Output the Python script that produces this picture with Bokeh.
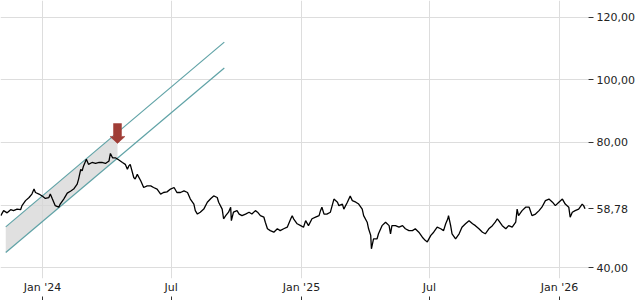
import pandas as pd
from bokeh.plotting import figure
from bokeh.models import (FixedTicker, CustomJSTickFormatter, LinearAxis, Range1d, Grid)
from bokeh.embed import file_html
from bokeh.resources import INLINE

# ---------------- data ----------------
base_date = "2024-01-01"
day_offsets = [
    -59, -55, -50, -45, -41, -36, -31, -29, -24, -19, -15, -12, -10, -5, 0, 4, 9, 11, 14, 18,
    23, 25, 30, 35, 40, 44, 49, 51, 54, 56, 58, 62, 65, 70, 75, 80, 84, 89, 94, 96,
    99, 103, 108, 113, 117, 120, 122, 124, 129, 131, 134, 139, 143, 148, 153, 157, 162, 167, 171, 176,
    181, 186, 190, 195, 200, 205, 209, 214,
    216, 219, 223, 228, 233, 238, 242, 247, 249, 254, 256, 259, 263, 266, 267, 270, 275, 278, 282, 287,
    292, 296, 301, 304, 308, 313, 315, 318, 322, 327, 332, 336, 341, 346, 351, 353, 355, 360, 365, 369,
    372, 376, 381, 386, 391, 393, 395, 398, 402, 407, 412, 417, 419, 424, 426, 431, 435, 438, 443, 447,
    452, 454, 459, 461, 464, 465, 468, 473, 475, 480, 485, 490,
    492, 494, 499, 504, 509, 513, 518, 523, 527, 532, 537, 541, 544, 549, 553, 558, 563, 567, 570, 573,
    574, 577, 579, 584, 589, 593, 598, 603, 608, 612, 617, 622, 626, 631, 636, 640, 643, 645, 650, 655,
    659, 664, 669, 671, 673, 678, 683, 688, 692, 697, 702, 706, 711, 716, 721, 725, 730, 735, 739, 744,
    746, 749, 753, 758, 763, 765, 767,
]
prices = [
    56.6, 58.2, 57.5, 58.5, 58.2, 58.7, 58.5, 59.8, 61.4, 62.4, 63.5, 65.1, 64.0, 63.5, 62.8, 62.1, 62.4, 63.5, 61.9, 59.8,
    59.3, 60.3, 61.9, 63.8, 64.5, 65.1, 66.7, 68.3, 71.4, 70.9, 72.5, 74.6, 73.0, 73.6, 73.3, 73.6, 73.6, 73.3, 74.1, 76.5,
    75.1, 75.1, 74.4, 73.6, 73.0, 71.4, 72.5, 73.0, 68.8, 68.3, 69.8, 67.7, 65.6, 66.1, 66.1, 65.6, 65.1, 63.5, 64.0, 64.2,
    65.1, 65.6, 64.0, 64.0, 64.5, 64.0, 61.9, 60.3,
    58.2, 57.1, 57.7, 58.7, 60.9, 62.1, 62.9, 62.4, 60.9, 58.7, 55.6, 56.6, 57.7, 59.3, 55.0, 57.7, 58.2, 57.1, 56.6, 57.1,
    57.7, 57.1, 58.2, 57.7, 56.6, 56.1, 54.5, 52.4, 51.8, 51.3, 52.4, 51.8, 52.4, 52.9, 55.6, 56.6, 55.6, 54.0, 53.4, 52.9,
    55.0, 53.4, 55.6, 56.1, 56.6, 58.2, 59.3, 57.1, 57.1, 57.7, 61.9, 60.9, 59.8, 60.3, 58.7, 60.9, 62.9, 61.4, 60.9, 60.3,
    58.7, 56.6, 54.5, 52.4, 50.3, 46.0, 49.2, 49.2, 50.8, 53.4, 54.5, 53.4,
    50.8, 53.4, 53.4, 52.9, 53.4, 52.4, 51.8, 51.8, 52.4, 51.3, 49.7, 48.7, 48.2, 50.3, 51.3, 52.9, 52.4, 51.8, 54.0, 55.6,
    56.6, 53.4, 50.8, 49.2, 50.8, 52.9, 54.0, 55.0, 54.0, 53.4, 52.4, 51.3, 50.8, 52.4, 53.4, 54.5, 55.6, 55.0, 53.4, 52.4,
    53.4, 52.9, 54.5, 58.7, 56.6, 58.2, 59.3, 59.3, 56.6, 57.1, 58.2, 59.3, 61.4, 61.9, 60.9, 59.8, 60.9, 61.9, 60.3, 59.3,
    56.1, 57.7, 58.2, 58.7, 60.3, 59.8, 58.78,
]
last_price = 58.78

# trend channel (day offsets from base_date, prices)
channel_days = [-52, 257]
channel_upper = [53.0, 112.1]
channel_lower = [44.8, 103.8]
shade_end_day = 106
signal_day = 106
signal_price = 79.7

y_grid_ticks = [40, 60, 80, 100, 120]
y_label_ticks = [40, 58.78, 80, 100, 120]
x_tick_dates = ["2024-01-01", "2024-07-01", "2025-01-01", "2025-07-01", "2026-01-01"]
x_tick_labels = ["Jan '24", "Jul", "Jan '25", "Jul", "Jan '26"]

# ---------------- helpers ----------------
base = pd.Timestamp(base_date)
MS_DAY = 86400000.0


def to_ms(day):
    return (base + pd.Timedelta(days=day)).value / 1e6


xs = [to_ms(d) for d in day_offsets]
x_ticks = [pd.Timestamp(d).value / 1e6 for d in x_tick_dates]
label_map = {str(int(t)): l for t, l in zip(x_ticks, x_tick_labels)}

W, H = 640, 300
FRAME_W, FRAME_H = 588, 280
x_start, x_end = to_ms(-59.4), to_ms(771.9)
y_start, y_end = 36.5, 125.4

p = figure(width=W, height=H, output_backend="svg", toolbar_location=None,
           x_range=Range1d(x_start, x_end), y_range=Range1d(y_start, y_end),
           x_axis_location=None, y_axis_location=None,
           min_border_left=0, min_border_top=0, min_border_right=W - FRAME_W,
           min_border_bottom=H - FRAME_H)
p.outline_line_color = None
p.background_fill_color = "white"
p.border_fill_color = "white"
for g in list(p.grid):
    g.visible = False

FONT = "DejaVu Sans"
TXT = "#222222"
GRID = "#dddddd"

xt = FixedTicker(ticks=x_ticks, minor_ticks=[])
p.add_layout(Grid(dimension=0, ticker=xt, grid_line_color=GRID, grid_line_width=1))
p.add_layout(Grid(dimension=1, ticker=FixedTicker(ticks=y_grid_ticks, minor_ticks=[]),
                  grid_line_color=GRID, grid_line_width=1))

# channel shade
def interp(vals, day):
    d0, d1 = channel_days
    return vals[0] + (vals[1] - vals[0]) * (day - d0) / (d1 - d0)


sx = [to_ms(channel_days[0]), to_ms(shade_end_day), to_ms(shade_end_day), to_ms(channel_days[0])]
sy = [channel_upper[0], interp(channel_upper, shade_end_day), interp(channel_lower, shade_end_day),
      channel_lower[0]]
p.patch(sx, sy, fill_color="#d6d6d6", fill_alpha=0.75, line_color=None)

cx = [to_ms(d) for d in channel_days]
p.line(cx, channel_upper, line_color="#5fa2a6", line_width=1.2)
p.line(cx, channel_lower, line_color="#5fa2a6", line_width=1.2)

p.line(xs, prices, line_color="black", line_width=1.3)

# signal arrow (pixel-sized shape placed at the signal point)
px_day = FRAME_W / ((x_end - x_start) / MS_DAY)
px_val = FRAME_H / (y_end - y_start)
arrow_px = [(0, 0), (-7.5, 7), (-4, 7), (-4, 20), (4, 20), (4, 7), (7.5, 7)]
ax = [to_ms(signal_day + dx / px_day) for dx, dy in arrow_px]
ay = [signal_price + dy / px_val for dx, dy in arrow_px]
p.patch(ax, ay, fill_color="#a03d36", line_color="#a03d36", line_width=0.5)

# y axis on right
yfmt = CustomJSTickFormatter(code="return tick.toFixed(2).replace('.', ',');")
yaxis = LinearAxis(ticker=FixedTicker(ticks=y_label_ticks, minor_ticks=[]), formatter=yfmt,
                   axis_line_color=None, major_tick_in=0, major_tick_out=5,
                   major_tick_line_color="#333333", minor_tick_line_color=None,
                   major_label_standoff=3, major_label_text_font=FONT,
                   major_label_text_font_size="11px", major_label_text_color=TXT)
p.add_layout(yaxis, "right")

xfmt = CustomJSTickFormatter(args=dict(m=label_map), code="return m[String(Math.round(tick))] || '';")
xaxis_labels = LinearAxis(ticker=xt, formatter=xfmt, axis_line_color=None,
                          major_tick_in=0, major_tick_out=0, minor_tick_line_color=None,
                          major_label_standoff=2, major_label_text_font=FONT,
                          major_label_text_font_size="11px", major_label_text_color=TXT)
xaxis_ticks = LinearAxis(ticker=xt, formatter=CustomJSTickFormatter(code="return '';"),
                         axis_line_color=None, major_tick_in=0, major_tick_out=4,
                         major_tick_line_color="#333333", minor_tick_line_color=None,
                         major_label_standoff=0, major_label_text_font_size="0px")
p.add_layout(xaxis_labels, "below")
p.add_layout(xaxis_ticks, "below")

open("out.html", "w").write(file_html(p, INLINE))
